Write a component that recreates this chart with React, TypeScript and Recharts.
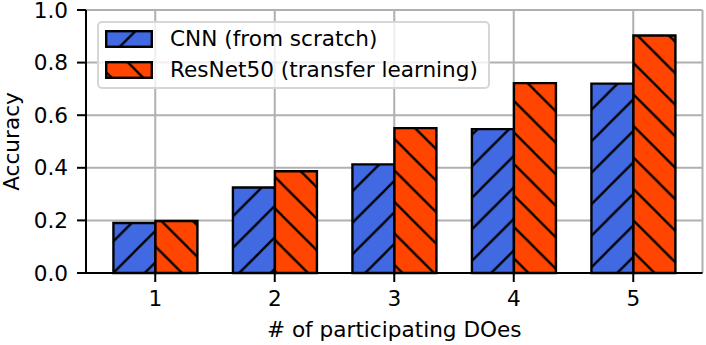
import React from 'react';
import { BarChart, Bar, XAxis, YAxis, CartesianGrid, Legend, Label } from 'recharts';

const categories = ['1', '2', '3', '4', '5'];
const cnnScratch = [0.19, 0.325, 0.413, 0.547, 0.72];
const resnetTransfer = [0.198, 0.387, 0.551, 0.722, 0.903];
const yTicks = [0, 0.2, 0.4, 0.6, 0.8, 1.0];

const SERIES = [
  { key: 'cnn', name: 'CNN (from scratch)', color: '#4169E1', hatch: '/' },
  { key: 'resnet', name: 'ResNet50 (transfer learning)', color: '#FF4500', hatch: '\\' },
];

const data = categories.map((c, i) => ({
  doe: c,
  cnn: cnnScratch[i],
  resnet: resnetTransfer[i],
}));

const FONT = '"DejaVu Sans", sans-serif';
const FS = 21.6;
const STEP = 31.5;
const HATCH_W = 2.3;

// hatch tile, "/" lines run x+y = const, "\" lines run y-x = const
function HatchPattern({ id, color, hatch, shift }: { id: string; color: string; hatch: string; shift: number }) {
  const s = STEP;
  const fwd = hatch === '/';
  return (
    <pattern
      id={id}
      patternUnits="userSpaceOnUse"
      width={s}
      height={s}
      patternTransform={fwd ? `translate(${shift},0)` : `translate(0,${shift})`}
    >
      <rect x={0} y={0} width={s} height={s} fill={color} />
      {fwd ? (
        <g stroke="#000" strokeWidth={HATCH_W}>
          <line x1={-2} y1={s + 2} x2={s + 2} y2={-2} />
          <line x1={-2} y1={2} x2={2} y2={-2} />
          <line x1={s - 2} y1={s + 2} x2={s + 2} y2={s - 2} />
        </g>
      ) : (
        <g stroke="#000" strokeWidth={HATCH_W}>
          <line x1={-2} y1={-2} x2={s + 2} y2={s + 2} />
          <line x1={-2} y1={s - 2} x2={2} y2={s + 2} />
          <line x1={s - 2} y1={-2} x2={s + 2} y2={2} />
        </g>
      )}
    </pattern>
  );
}

const renderLegend = () => (
  <div
    style={{
      width: 389,
      height: 64,
      border: '2px solid #d6d6d6',
      borderRadius: 5,
      background: 'rgba(255,255,255,0.8)',
      fontFamily: FONT,
      fontSize: FS,
      color: '#000',
      position: 'relative',
    }}
  >
    {SERIES.map((s, i) => (
      <div key={s.key} style={{ position: 'absolute', left: 6, top: 7 + i * 31, display: 'flex', alignItems: 'center', height: 18 }}>
        <svg width={48} height={18} style={{ display: 'block' }}>
          <defs>
            <HatchPattern id={`leg-${s.key}`} color={s.color} hatch={s.hatch} shift={s.hatch === '/' ? 0 : 10} />
          </defs>
          <rect x={1.2} y={1.2} width={45.6} height={15.6} fill={`url(#leg-${s.key})`} stroke="#000" strokeWidth={2.4} />
        </svg>
        <span style={{ marginLeft: 17, whiteSpace: 'nowrap', lineHeight: '18px' }}>{s.name}</span>
      </div>
    ))}
  </div>
);

const YLabel = (props: any) => {
  const vb = props.viewBox || { x: 0, y: 0, height: 0 };
  const cx = vb.x + 18.5;
  const cy = vb.y + vb.height / 2;
  return (
    <text x={cx} y={cy} transform={`rotate(-90,${cx},${cy})`} textAnchor="middle" fill="#000" fontSize={FS} fontFamily={FONT}>
      Accuracy
    </text>
  );
};

export default function App() {
  const axisLine = { stroke: '#000', strokeWidth: 2 };
  return (
    <div style={{ position: 'absolute', left: 0, top: 0, width: 706, height: 345, background: '#fff', fontFamily: FONT }}>
      <BarChart
        width={706}
        height={345}
        data={data}
        margin={{ top: 10, right: 3.5, bottom: 0, left: 0 }}
        barCategoryGap="15%"
        barGap={0}
      >
        <defs>
          <HatchPattern id="hatch-cnn" color="#4169E1" hatch="/" shift={8.2} />
          <HatchPattern id="hatch-resnet" color="#FF4500" hatch="\\" shift={28} />
        </defs>
        <CartesianGrid stroke="#b0b0b0" strokeWidth={2} />
        <XAxis
          dataKey="doe"
          height={72}
          padding={{ left: 9.5, right: 9.5 }}
          axisLine={axisLine}
          tickLine={{ stroke: '#000', strokeWidth: 2 }}
          tickSize={9}
          tickMargin={9}
          tick={{ fill: '#000', fontSize: FS, fontFamily: FONT }}
        >
          <Label value="# of participating DOes" position="insideBottom" offset={8} fill="#000" fontSize={FS} fontFamily={FONT} />
        </XAxis>
        <XAxis xAxisId="top" dataKey="doe" orientation="top" height={0} tick={false} tickLine={false} axisLine={axisLine} />
        <YAxis
          width={86}
          domain={[0, 1]}
          ticks={yTicks}
          interval={0}
          axisLine={axisLine}
          tickLine={{ stroke: '#000', strokeWidth: 2 }}
          tickSize={9}
          tickMargin={9}
          tickFormatter={(v: number) => v.toFixed(1)}
          tick={{ fill: '#000', fontSize: FS, fontFamily: FONT }}
        >
          <Label content={YLabel} />
        </YAxis>
        <YAxis yAxisId="right" orientation="right" width={0} domain={[0, 1]} tick={false} tickLine={false} axisLine={axisLine} />
        <Legend
          content={renderLegend}
          layout="horizontal"
          verticalAlign="middle"
          align="center"
          wrapperStyle={{ position: 'absolute', left: 97, top: 21, width: 393, height: 68 }}
        />
        {SERIES.map((s) => (
          <Bar
            key={s.key}
            dataKey={s.key}
            name={s.name}
            fill={`url(#hatch-${s.key})`}
            stroke="#000"
            strokeWidth={2.4}
            isAnimationActive={false}
          />
        ))}
      </BarChart>
    </div>
  );
}
